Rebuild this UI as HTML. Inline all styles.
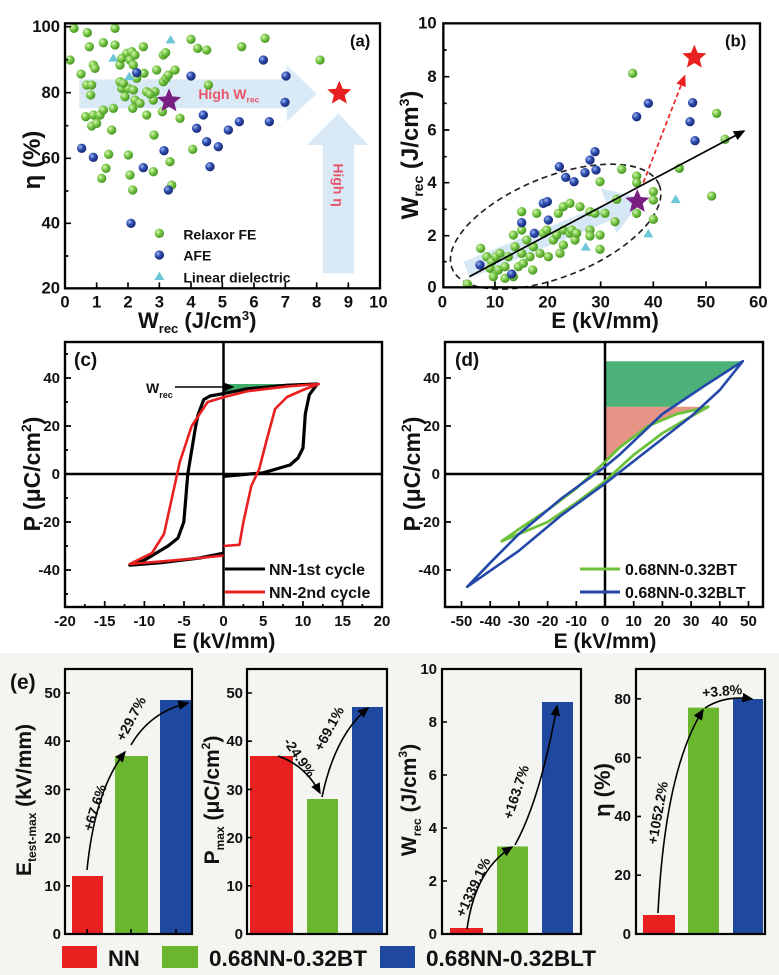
<!DOCTYPE html>
<html><head><meta charset="utf-8"><style>
html,body{margin:0;padding:0;background:#fff}
svg{display:block;font-family:"Liberation Sans",Arial,sans-serif;font-weight:bold}
</style></head><body>
<svg width="779" height="975" viewBox="0 0 779 975" xmlns="http://www.w3.org/2000/svg">
<defs>
<radialGradient id="gg" cx="0.35" cy="0.35" r="0.7"><stop offset="0" stop-color="#d8f7b8"/><stop offset="0.45" stop-color="#7cc94a"/><stop offset="1" stop-color="#3f8f1e"/></radialGradient>
<radialGradient id="bg" cx="0.35" cy="0.35" r="0.7"><stop offset="0" stop-color="#9fb6f0"/><stop offset="0.45" stop-color="#2f4fb0"/><stop offset="1" stop-color="#14246e"/></radialGradient>
<path id="star" d="M0,-1 L0.264,-0.364 L0.951,-0.309 L0.428,0.139 L0.588,0.809 L0,0.45 L-0.588,0.809 L-0.428,0.139 L-0.951,-0.309 L-0.264,-0.364Z"/>
<marker id="ah" markerWidth="8" markerHeight="8" refX="6" refY="3" orient="auto" markerUnits="strokeWidth"><path d="M0,0 L7,3 L0,6 Z" fill="#000"/></marker>
<marker id="ahr" markerWidth="8" markerHeight="8" refX="6" refY="3" orient="auto" markerUnits="strokeWidth"><path d="M0,0 L7,3 L0,6 Z" fill="#e8201f"/></marker>
</defs>

<!-- ===== Panel a (zoom coords /3) ===== -->
<g transform="scale(0.33333)">
<rect x="238" y="238" width="622" height="87" fill="#d2e6f5" opacity="0.85"/>
<path d="M860,195 L950,282 L860,365Z" fill="#d2e6f5" opacity="0.85"/>
<rect x="968" y="435" width="95" height="385" fill="#d2e6f5" opacity="0.85"/>
<path d="M920,435 L1015,340 L1105,435Z" fill="#d2e6f5" opacity="0.85"/>
<g fill="url(#gg)">
<circle cx="222" cy="85" r="14"/><circle cx="210" cy="180" r="14"/><circle cx="262" cy="98" r="14"/><circle cx="268" cy="140" r="14"/><circle cx="345" cy="85" r="14"/><circle cx="345" cy="135" r="14"/><circle cx="310" cy="128" r="14"/><circle cx="243" cy="222" r="14"/><circle cx="260" cy="255" r="14"/><circle cx="280" cy="195" r="14"/><circle cx="285" cy="205" r="14"/><circle cx="275" cy="255" r="14"/><circle cx="272" cy="285" r="14"/><circle cx="257" cy="350" r="14"/><circle cx="275" cy="378" r="14"/><circle cx="280" cy="345" r="14"/><circle cx="300" cy="345" r="14"/><circle cx="290" cy="370" r="14"/><circle cx="310" cy="330" r="14"/><circle cx="340" cy="325" r="14"/><circle cx="335" cy="390" r="14"/><circle cx="326" cy="463" r="14"/><circle cx="318" cy="505" r="14"/><circle cx="305" cy="535" r="14"/><circle cx="385" cy="465" r="14"/><circle cx="390" cy="525" r="14"/><circle cx="398" cy="570" r="14"/><circle cx="360" cy="195" r="14"/><circle cx="365" cy="175" r="14"/><circle cx="380" cy="160" r="14"/><circle cx="390" cy="180" r="14"/><circle cx="400" cy="195" r="14"/><circle cx="395" cy="155" r="14"/><circle cx="405" cy="165" r="14"/><circle cx="365" cy="265" r="14"/><circle cx="360" cy="245" r="14"/><circle cx="385" cy="265" r="14"/><circle cx="400" cy="270" r="14"/><circle cx="405" cy="300" r="14"/><circle cx="398" cy="325" r="14"/><circle cx="375" cy="290" r="14"/><circle cx="430" cy="140" r="14"/><circle cx="432" cy="220" r="14"/><circle cx="440" cy="275" r="14"/><circle cx="440" cy="345" r="14"/><circle cx="465" cy="275" r="14"/><circle cx="470" cy="210" r="14"/><circle cx="462" cy="405" r="14"/><circle cx="460" cy="515" r="14"/><circle cx="490" cy="165" r="14"/><circle cx="497" cy="158" r="14"/><circle cx="490" cy="245" r="14"/><circle cx="498" cy="235" r="14"/><circle cx="505" cy="225" r="14"/><circle cx="525" cy="210" r="14"/><circle cx="510" cy="485" r="14"/><circle cx="515" cy="555" r="14"/><circle cx="540" cy="355" r="14"/><circle cx="487" cy="335" r="14"/><circle cx="573" cy="118" r="14"/><circle cx="593" cy="145" r="14"/><circle cx="620" cy="150" r="14"/><circle cx="625" cy="255" r="14"/><circle cx="578" cy="448" r="14"/><circle cx="725" cy="140" r="14"/><circle cx="795" cy="115" r="14"/><circle cx="960" cy="180" r="14"/><circle cx="410" cy="235" r="14"/><circle cx="420" cy="310" r="14"/><circle cx="370" cy="250" r="14"/><circle cx="460" cy="300" r="14"/><circle cx="450" cy="282" r="14"/>
<circle cx="478" cy="700" r="14"/>
</g>
<g fill="url(#bg)">
<circle cx="245" cy="445" r="14"/><circle cx="280" cy="472" r="14"/><circle cx="410" cy="218" r="14"/><circle cx="430" cy="503" r="14"/><circle cx="492" cy="452" r="14"/><circle cx="505" cy="570" r="14"/><circle cx="393" cy="670" r="14"/><circle cx="573" cy="228" r="14"/><circle cx="590" cy="385" r="14"/><circle cx="610" cy="345" r="14"/><circle cx="620" cy="425" r="14"/><circle cx="630" cy="500" r="14"/><circle cx="655" cy="440" r="14"/><circle cx="685" cy="390" r="14"/><circle cx="718" cy="365" r="14"/><circle cx="790" cy="180" r="14"/><circle cx="808" cy="365" r="14"/><circle cx="858" cy="228" r="14"/><circle cx="855" cy="307" r="14"/>
<circle cx="478" cy="765" r="14"/>
</g>
<g fill="#6cc6d8">
<path d="M512,105 L527,130 L497,130Z"/><path d="M340,160 L355,185 L325,185Z"/><path d="M388,215 L403,240 L373,240Z"/><path d="M478,815 L493,840 L463,840Z"/>
</g>
<use href="#star" transform="translate(507,303) scale(38)" fill="#7a1f82"/>
<use href="#star" transform="translate(1018,280) scale(38)" fill="#e8201f"/>
<text x="595" y="297" font-size="42" fill="#e8546a">High W<tspan font-size="26" dy="10">rec</tspan></text>
<text transform="translate(1000,490) rotate(90)" font-size="42" fill="#e8546a">High η</text>
<g font-size="42" fill="#111">
<text x="550" y="718">Relaxor FE</text><text x="550" y="782">AFE</text><text x="550" y="847">Linear dielectric</text>
</g>
<text x="1050" y="140" font-size="50" fill="#111">(a)</text>
<rect x="195" y="70" width="945" height="795" fill="none" stroke="#000" stroke-width="7"/>
<g stroke="#000" stroke-width="5">
<path d="M195,80h18M195,278h18M195,475h18M195,670h18M195,179h10M195,377h10M195,573h10M195,768h10"/>
<path d="M195,865v-18M290,865v-18M384,865v-18M478,865v-18M573,865v-18M667,865v-18M762,865v-18M856,865v-18M950,865v-18M1045,865v-18"/>
</g>
<g font-size="50" text-anchor="end" fill="#111">
<text x="180" y="96">100</text><text x="180" y="294">80</text><text x="180" y="491">60</text><text x="180" y="686">40</text><text x="180" y="881">20</text>
</g>
<g font-size="50" text-anchor="middle" fill="#111">
<text x="195" y="922">0</text><text x="290" y="922">1</text><text x="384" y="922">2</text><text x="478" y="922">3</text><text x="573" y="922">4</text><text x="667" y="922">5</text><text x="762" y="922">6</text><text x="856" y="922">7</text><text x="950" y="922">8</text><text x="1045" y="922">9</text><text x="1135" y="922">10</text>
</g>
</g>
<text x="138" y="328" font-size="22" fill="#111">W<tspan font-size="13" dy="5">rec</tspan><tspan dy="-5"> (J/cm</tspan><tspan font-size="13" dy="-8">3</tspan><tspan dy="8">)</tspan></text>
<text transform="translate(40,160) rotate(-90)" font-size="24" text-anchor="middle" fill="#111">η (%)</text>

<!-- ===== Panel b ===== -->
<g transform="translate(390,0) scale(0.33333)">
<ellipse cx="497" cy="680" rx="335" ry="150" transform="rotate(-22 497 680)" fill="none" stroke="#222" stroke-width="5" stroke-dasharray="18,12"/>
<path d="M220,785 L650,610 L632,565 L760,595 L680,700 L665,660 L240,835Z" fill="#cfe3f4" opacity="0.85"/>
<g fill="url(#gg)">
<circle cx="232" cy="852" r="14"/><circle cx="272" cy="745" r="14"/><circle cx="290" cy="770" r="14"/><circle cx="305" cy="785" r="14"/><circle cx="318" cy="770" r="14"/><circle cx="300" cy="805" r="14"/><circle cx="325" cy="810" r="14"/><circle cx="345" cy="800" r="14"/><circle cx="370" cy="830" r="14"/><circle cx="385" cy="800" r="14"/><circle cx="400" cy="790" r="14"/><circle cx="395" cy="760" r="14"/><circle cx="375" cy="740" r="14"/><circle cx="370" cy="705" r="14"/><circle cx="395" cy="690" r="14"/><circle cx="410" cy="720" r="14"/><circle cx="420" cy="770" r="14"/><circle cx="428" cy="810" r="14"/><circle cx="395" cy="635" r="14"/><circle cx="440" cy="640" r="14"/><circle cx="460" cy="700" r="14"/><circle cx="470" cy="690" r="14"/><circle cx="450" cy="760" r="14"/><circle cx="475" cy="770" r="14"/><circle cx="490" cy="720" r="14"/><circle cx="500" cy="705" r="14"/><circle cx="505" cy="640" r="14"/><circle cx="520" cy="620" r="14"/><circle cx="540" cy="610" r="14"/><circle cx="520" cy="690" r="14"/><circle cx="540" cy="700" r="14"/><circle cx="520" cy="735" r="14"/><circle cx="545" cy="690" r="14"/><circle cx="555" cy="720" r="14"/><circle cx="570" cy="620" r="14"/><circle cx="600" cy="635" r="14"/><circle cx="600" cy="690" r="14"/><circle cx="615" cy="640" r="14"/><circle cx="645" cy="640" r="14"/><circle cx="600" cy="708" r="14"/><circle cx="630" cy="705" r="14"/><circle cx="630" cy="748" r="14"/><circle cx="675" cy="665" r="14"/><circle cx="680" cy="598" r="14"/><circle cx="695" cy="508" r="14"/><circle cx="630" cy="545" r="14"/><circle cx="740" cy="528" r="14"/><circle cx="740" cy="548" r="14"/><circle cx="740" cy="640" r="14"/><circle cx="790" cy="575" r="14"/><circle cx="790" cy="600" r="14"/><circle cx="790" cy="658" r="14"/><circle cx="868" cy="505" r="14"/><circle cx="965" cy="588" r="14"/><circle cx="1005" cy="418" r="14"/><circle cx="980" cy="340" r="14"/><circle cx="728" cy="220" r="14"/><circle cx="345" cy="835" r="14"/><circle cx="310" cy="830" r="14"/><circle cx="330" cy="760" r="14"/><circle cx="355" cy="770" r="14"/><circle cx="430" cy="740" r="14"/><circle cx="510" cy="760" r="14"/><circle cx="560" cy="700" r="14"/>
</g>
<g fill="url(#bg)">
<circle cx="270" cy="795" r="14"/><circle cx="365" cy="822" r="14"/><circle cx="395" cy="668" r="14"/><circle cx="433" cy="700" r="14"/><circle cx="460" cy="610" r="14"/><circle cx="472" cy="605" r="14"/><circle cx="475" cy="660" r="14"/><circle cx="508" cy="500" r="14"/><circle cx="527" cy="532" r="14"/><circle cx="552" cy="545" r="14"/><circle cx="585" cy="518" r="14"/><circle cx="600" cy="480" r="14"/><circle cx="615" cy="455" r="14"/><circle cx="618" cy="510" r="14"/><circle cx="740" cy="350" r="14"/><circle cx="775" cy="310" r="14"/><circle cx="900" cy="365" r="14"/><circle cx="908" cy="308" r="14"/><circle cx="915" cy="422" r="14"/>
</g>
<g fill="#6cc6d8">
<path d="M587,727 L602,752 L572,752Z"/><path d="M775,687 L790,712 L760,712Z"/><path d="M857,584 L872,609 L842,609Z"/>
</g>
<line x1="238" y1="830" x2="1062" y2="393" stroke="#000" stroke-width="5" marker-end="url(#ah)"/>
<line x1="760" y1="548" x2="884" y2="228" stroke="#e8201f" stroke-width="5" stroke-dasharray="14,9" marker-end="url(#ahr)"/>
<use href="#star" transform="translate(742,605) scale(38)" fill="#7a1f82"/>
<use href="#star" transform="translate(913,172) scale(38)" fill="#e8201f"/>
<text x="1005" y="140" font-size="50" fill="#111">(b)</text>
<rect x="160" y="70" width="950" height="792" fill="none" stroke="#000" stroke-width="7"/>
<g stroke="#000" stroke-width="5">
<path d="M160,70h18M160,230h18M160,390h18M160,548h18M160,707h18M160,150h10M160,310h10M160,470h10M160,628h10M160,785h10"/>
<path d="M315,862v-18M473,862v-18M632,862v-18M790,862v-18M948,862v-18"/>
</g>
<g font-size="50" text-anchor="end" fill="#111">
<text x="140" y="86">10</text><text x="140" y="246">8</text><text x="140" y="406">6</text><text x="140" y="564">4</text><text x="140" y="723">2</text><text x="140" y="878">0</text>
</g>
<g font-size="50" text-anchor="middle" fill="#111">
<text x="157" y="922">0</text><text x="315" y="922">10</text><text x="473" y="922">20</text><text x="632" y="922">30</text><text x="790" y="922">40</text><text x="948" y="922">50</text><text x="1105" y="922">60</text>
</g>
</g>
<text x="605" y="328" font-size="22" text-anchor="middle" fill="#111">E (kV/mm)</text>
<text transform="translate(418,155) rotate(-90)" font-size="24" text-anchor="middle" fill="#111">W<tspan font-size="14" dy="5">rec</tspan><tspan dy="-5"> (J/cm</tspan><tspan font-size="14" dy="-9">3</tspan><tspan dy="9">)</tspan></text>

<!-- ===== Panel c ===== -->
<path d="M223.5,384 L318,384 L287,386 L247,390 L223.5,395Z" fill="#3fae6a"/>
<line x1="65" y1="474" x2="382" y2="474" stroke="#000" stroke-width="2.5"/>
<line x1="223.5" y1="342" x2="223.5" y2="607" stroke="#000" stroke-width="2.5"/>
<polyline fill="none" stroke="#000" stroke-width="3.2" stroke-linejoin="round" points="223.5,476.4 263.2,472.8 290,465 298,458 303,448 305.3,414 309.3,394.8 317.2,384 287,385.2 247.3,388.8 223.5,393.6 210,396 203.7,399.6 198,415 195.7,426 187.8,474 183.8,522 178,538 168,546 144.1,560.4 129.8,565.2 160,562.8 199.7,558 223.5,553.2"/>
<polyline fill="none" stroke="#e8201f" stroke-width="2.6" stroke-linejoin="round" points="223.5,546 239.4,544.8 243.4,522 251.3,486 259.2,469 267.2,438 275.1,409 287,397 302.9,390 318.8,384 287,386.4 247.3,391.2 223.5,397.2 207.6,402 191.7,426 179.8,462 171.9,498 164,534 152,553 129.8,564 160,561.6 199.7,558 223.5,555.6"/>
<line x1="175" y1="387" x2="233" y2="387" stroke="#000" stroke-width="1.5" marker-end="url(#ah)"/>
<text x="146" y="393" font-size="14" fill="#111">W<tspan font-size="9" dy="5">rec</tspan></text>
<line x1="225" y1="569" x2="265" y2="569" stroke="#000" stroke-width="3"/>
<line x1="225" y1="592" x2="265" y2="592" stroke="#e8201f" stroke-width="3"/>
<text x="269" y="575" font-size="16" fill="#111">NN-1st cycle</text>
<text x="269" y="598" font-size="16" fill="#111">NN-2nd cycle</text>
<text x="74" y="366" font-size="19" fill="#111">(c)</text>
<rect x="65" y="342" width="317" height="265" fill="none" stroke="#000" stroke-width="2.4"/>
<g stroke="#000" stroke-width="1.7">
<path d="M65,378h6M65,426h6M65,474h6M65,522h6M65,570h6M65,354h3M65,402h3M65,450h3M65,498h3M65,546h3M65,594h3"/>
<path d="M65,607v-6M104.7,607v-6M144.4,607v-6M184,607v-6M223.5,607v-6M263.2,607v-6M303,607v-6M342.6,607v-6M382,607v-6M84.8,607v-3M124.5,607v-3M164,607v-3M203.7,607v-3M243.4,607v-3M283,607v-3M322.8,607v-3M362.3,607v-3"/>
</g>
<g font-size="15" text-anchor="end" fill="#111">
<text x="60" y="383">40</text><text x="60" y="431">20</text><text x="60" y="479">0</text><text x="60" y="527">-20</text><text x="60" y="575">-40</text>
</g>
<g font-size="15" text-anchor="middle" fill="#111">
<text x="65" y="626">-20</text><text x="104.7" y="626">-15</text><text x="144.4" y="626">-10</text><text x="184" y="626">-5</text><text x="223.5" y="626">0</text><text x="263.2" y="626">5</text><text x="303" y="626">10</text><text x="342.6" y="626">15</text><text x="382" y="626">20</text>
</g>
<text x="224" y="648" font-size="21" text-anchor="middle" fill="#111">E (kV/mm)</text>
<text transform="translate(40,474) rotate(-90)" font-size="23" text-anchor="middle" fill="#111">P (μC/cm<tspan font-size="14" dy="-9">2</tspan><tspan dy="9">)</tspan></text>

<!-- ===== Panel d ===== -->
<path d="M605,406.8 L708.3,406.8 L676.8,414 L648,426 L619.4,447.6 L605,462Z" fill="#e59486"/>
<path d="M605,361.2 L742.8,361.2 L705.5,385.2 L674,406.8 L605,406.8Z" fill="#4cb27a"/>
<line x1="445" y1="474" x2="763" y2="474" stroke="#000" stroke-width="2.5"/>
<line x1="605" y1="342" x2="605" y2="607" stroke="#000" stroke-width="2.5"/>
<polygon fill="none" stroke="#6cc23a" stroke-width="2.8" stroke-linejoin="round" points="501.7,541.2 547.6,522 576.3,502.8 605,481.2 633.7,454.8 662.4,433.2 691.1,416.4 708.3,406.8 676.8,414 648,426 619.4,447.6 605,462 576.3,488.4 547.6,510 518.9,529.2"/>
<polygon fill="none" stroke="#2448a8" stroke-width="2.6" stroke-linejoin="round" points="467.2,586.8 518.9,550.8 562,514.8 605,483.6 648,450 691.1,416.4 719.8,390 742.8,361.2 705.5,385.2 662.4,414 619.4,454.8 605,466.8 562,498 518.9,534 490.2,562.8"/>
<line x1="580" y1="569" x2="620" y2="569" stroke="#6cc23a" stroke-width="3"/>
<line x1="580" y1="592" x2="620" y2="592" stroke="#2448a8" stroke-width="3"/>
<text x="625" y="575" font-size="16" fill="#111">0.68NN-0.32BT</text>
<text x="625" y="598" font-size="16" fill="#111">0.68NN-0.32BLT</text>
<text x="455" y="366" font-size="19" fill="#111">(d)</text>
<rect x="445" y="342" width="318" height="265" fill="none" stroke="#000" stroke-width="2.4"/>
<g stroke="#000" stroke-width="1.7">
<path d="M445,378h6M445,426h6M445,474h6M445,522h6M445,570h6"/>
<path d="M461.5,607v-6M490.2,607v-6M518.9,607v-6M547.6,607v-6M576.3,607v-6M605,607v-6M633.7,607v-6M662.4,607v-6M691.1,607v-6M719.8,607v-6M748.5,607v-6"/>
</g>
<g font-size="15" text-anchor="end" fill="#111">
<text x="440" y="383">40</text><text x="440" y="431">20</text><text x="440" y="479">0</text><text x="440" y="527">-20</text><text x="440" y="575">-40</text>
</g>
<g font-size="15" text-anchor="middle" fill="#111">
<text x="461.5" y="626">-50</text><text x="490.2" y="626">-40</text><text x="518.9" y="626">-30</text><text x="547.6" y="626">-20</text><text x="576.3" y="626">-10</text><text x="605" y="626">0</text><text x="633.7" y="626">10</text><text x="662.4" y="626">20</text><text x="691.1" y="626">30</text><text x="719.8" y="626">40</text><text x="748.5" y="626">50</text>
</g>
<text x="605" y="648" font-size="21" text-anchor="middle" fill="#111">E (kV/mm)</text>
<text transform="translate(420,474) rotate(-90)" font-size="23" text-anchor="middle" fill="#111">P (μC/cm<tspan font-size="14" dy="-9">2</tspan><tspan dy="9">)</tspan></text>

<!-- ===== Panel e ===== -->
<rect x="0" y="653" width="779" height="322" fill="#f4f4f0"/>
<text x="10" y="689" font-size="21" fill="#111">(e)</text>
<!-- plot 1 -->
<rect x="72" y="876" width="31" height="58" fill="#e8201f"/>
<rect x="115" y="756" width="33" height="178" fill="#6ab72f"/>
<rect x="160" y="700" width="32" height="234" fill="#1f48a0"/>
<rect x="65" y="669" width="127" height="265" fill="none" stroke="#000" stroke-width="2.2"/>
<g stroke="#000" stroke-width="1.6"><path d="M65,934h5M65,885.8h5M65,837.6h5M65,789.4h5M65,741.2h5M65,693h5M87,934v-5M131,934v-5M176,934v-5"/></g>
<g font-size="15" text-anchor="end" fill="#111"><text x="61" y="939">0</text><text x="61" y="891">10</text><text x="61" y="843">20</text><text x="61" y="795">30</text><text x="61" y="746">40</text><text x="61" y="698">50</text></g>
<path d="M87,870 Q95,790 125,752" fill="none" stroke="#000" stroke-width="1.6" marker-end="url(#ah)"/>
<path d="M131,745 Q150,712 188,703" fill="none" stroke="#000" stroke-width="1.6" marker-end="url(#ah)"/>
<text transform="translate(92,832) rotate(-72)" font-size="14" fill="#111">+67.6%</text>
<text transform="translate(124,742) rotate(-62)" font-size="14" fill="#111">+29.7%</text>
<text transform="translate(31,800) rotate(-90)" font-size="21" text-anchor="middle" fill="#111">E<tspan font-size="12" dy="5">test-max</tspan><tspan dy="-5"> (kV/mm)</tspan></text>
<!-- plot 2 -->
<rect x="250" y="756" width="43" height="178" fill="#e8201f"/>
<rect x="307" y="799" width="31" height="135" fill="#6ab72f"/>
<rect x="352" y="707" width="31" height="227" fill="#1f48a0"/>
<rect x="247" y="669" width="140" height="265" fill="none" stroke="#000" stroke-width="2.2"/>
<g stroke="#000" stroke-width="1.6"><path d="M247,934h5M247,885.8h5M247,837.6h5M247,789.4h5M247,741.2h5M247,693h5"/></g>
<g font-size="15" text-anchor="end" fill="#111"><text x="243" y="939">0</text><text x="243" y="891">10</text><text x="243" y="843">20</text><text x="243" y="795">30</text><text x="243" y="746">40</text><text x="243" y="698">50</text></g>
<path d="M278,756 Q305,765 320,793" fill="none" stroke="#000" stroke-width="1.6" marker-end="url(#ah)"/>
<path d="M322,797 Q335,735 368,708" fill="none" stroke="#000" stroke-width="1.6" marker-end="url(#ah)"/>
<text transform="translate(283,742) rotate(55)" font-size="14" fill="#111">-24.9%</text>
<text transform="translate(322,752) rotate(-62)" font-size="14" fill="#111">+69.1%</text>
<text transform="translate(219,800) rotate(-90)" font-size="21" text-anchor="middle" fill="#111">P<tspan font-size="12" dy="5">max</tspan><tspan dy="-5"> (μC/cm</tspan><tspan font-size="12" dy="-9">2</tspan><tspan dy="9">)</tspan></text>
<!-- plot 3 -->
<rect x="450" y="928" width="33" height="6" fill="#e8201f"/>
<rect x="497" y="846.5" width="31" height="87.5" fill="#6ab72f"/>
<rect x="542" y="702" width="31" height="232" fill="#1f48a0"/>
<rect x="442" y="669" width="139" height="265" fill="none" stroke="#000" stroke-width="2.2"/>
<g stroke="#000" stroke-width="1.6"><path d="M442,934h5M442,881h5M442,828h5M442,775h5M442,722h5M442,669h5"/></g>
<g font-size="15" text-anchor="end" fill="#111"><text x="437" y="939">0</text><text x="437" y="886">2</text><text x="437" y="833">4</text><text x="437" y="780">6</text><text x="437" y="727">8</text><text x="437" y="674">10</text></g>
<path d="M467,929 Q475,870 512,847" fill="none" stroke="#000" stroke-width="1.6" marker-end="url(#ah)"/>
<path d="M515,845 Q540,800 557,706" fill="none" stroke="#000" stroke-width="1.6" marker-end="url(#ah)"/>
<text transform="translate(464,918) rotate(-65)" font-size="14" fill="#111">+1339.1%</text>
<text transform="translate(512,820) rotate(-72)" font-size="14" fill="#111">+163.7%</text>
<text transform="translate(416,800) rotate(-90)" font-size="21" text-anchor="middle" fill="#111">W<tspan font-size="12" dy="5">rec</tspan><tspan dy="-5"> (J/cm</tspan><tspan font-size="12" dy="-9">3</tspan><tspan dy="9">)</tspan></text>
<!-- plot 4 -->
<rect x="643" y="915" width="32" height="19" fill="#e8201f"/>
<rect x="688" y="707.6" width="31" height="226.4" fill="#6ab72f"/>
<rect x="733" y="699" width="30" height="235" fill="#1f48a0"/>
<rect x="636" y="669" width="129" height="265" fill="none" stroke="#000" stroke-width="2.2"/>
<g stroke="#000" stroke-width="1.6"><path d="M636,934h5M636,875.2h5M636,816.4h5M636,757.6h5M636,698.8h5"/></g>
<g font-size="15" text-anchor="end" fill="#111"><text x="631" y="939">0</text><text x="631" y="880">20</text><text x="631" y="821">40</text><text x="631" y="763">60</text><text x="631" y="704">80</text></g>
<path d="M658,913 Q665,770 703,710" fill="none" stroke="#000" stroke-width="1.6" marker-end="url(#ah)"/>
<path d="M705,708 Q725,695 752,699" fill="none" stroke="#000" stroke-width="1.6" marker-end="url(#ah)"/>
<text transform="translate(657,845) rotate(-80)" font-size="14" fill="#111">+1052.2%</text>
<text x="702" y="696" font-size="14" fill="#111" transform="rotate(-5 720 690)">+3.8%</text>
<text transform="translate(610,790) rotate(-90)" font-size="22" text-anchor="middle" fill="#111">η (%)</text>
<!-- legend -->
<rect x="62" y="946" width="35" height="22" fill="#e8201f"/>
<text x="108" y="966" font-size="22" fill="#111">NN</text>
<rect x="162" y="946" width="36" height="22" fill="#6ab72f"/>
<text x="209" y="966" font-size="22" fill="#111" textLength="158" lengthAdjust="spacingAndGlyphs">0.68NN-0.32BT</text>
<rect x="380" y="946" width="35" height="22" fill="#1f48a0"/>
<text x="426" y="966" font-size="22" fill="#111" textLength="170" lengthAdjust="spacingAndGlyphs">0.68NN-0.32BLT</text>
</svg>
</body></html>
